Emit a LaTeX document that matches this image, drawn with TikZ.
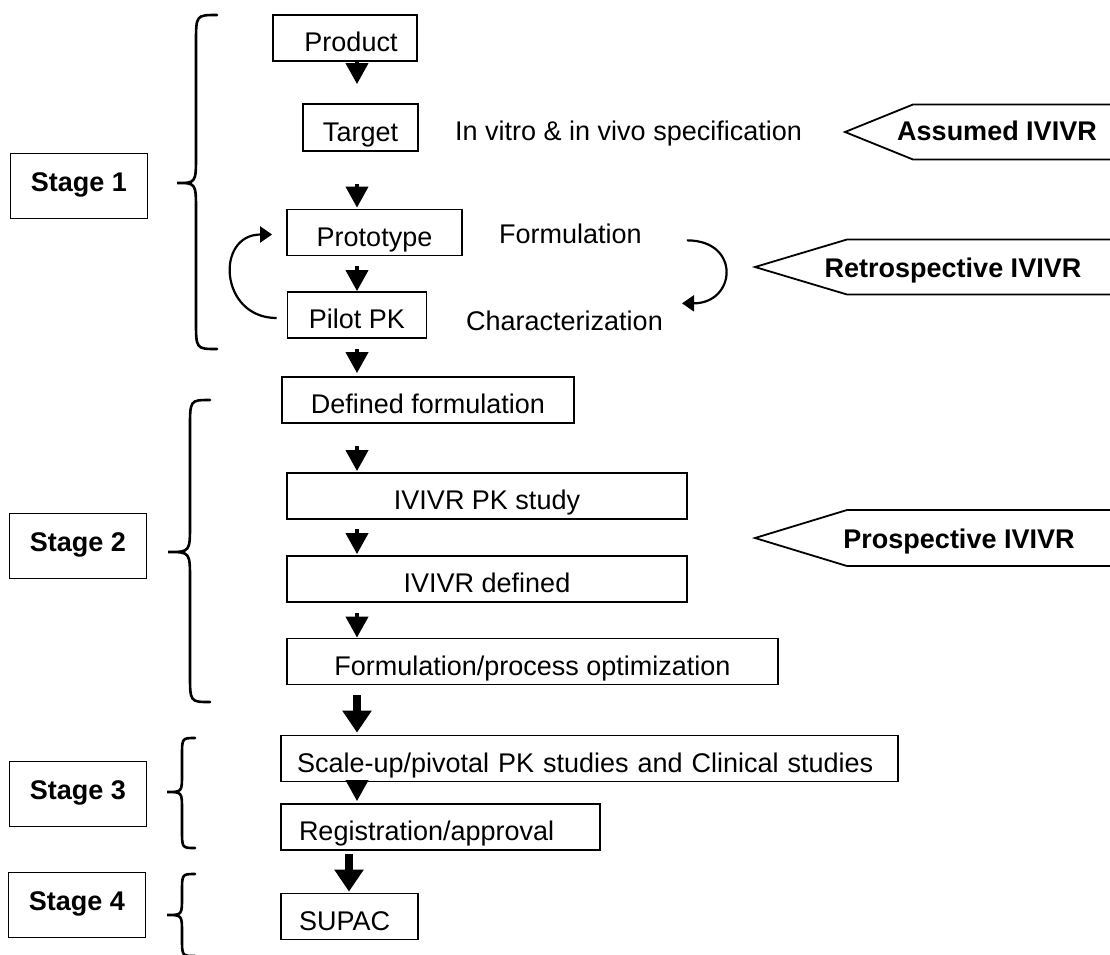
\documentclass[tikz,border=0pt]{standalone}
\usepackage{fontspec}
\setmainfont{Liberation Sans}
\usepackage{tikz}
\usetikzlibrary{arrows.meta,scopes}

\begin{document}
\begin{tikzpicture}[
    x=1pt, y=-1pt,
    txt/.style={font=\fontsize{27pt}{32pt}\selectfont, inner sep=0pt},
    stepbox/.style={rectangle, draw, line width=1.8pt, minimum height=46pt, inner xsep=3pt, inner ysep=2pt, text height=27pt, text depth=0pt, font=\fontsize{27pt}{32pt}\selectfont},
    leftbox/.style={stepbox, align=left},
    stage/.style={stepbox, minimum width=137pt, minimum height=65pt, text height=20pt, text depth=10pt, font=\fontsize{27pt}{32pt}\selectfont\bfseries},
    tag/.style={draw=black, line width=1.8pt, line join=miter},
    flow/.style={line width=4pt, -{Triangle[width=22pt,length=21pt]}},
    bigflow/.style={line width=8pt, -{Triangle[width=28pt,length=22pt]}},
    turn/.style={line width=2.2pt, -{Triangle[width=16pt,length=12pt]}},
    curly/.style={line width=2.6pt, line cap=round},
]
    \useasboundingbox (0,0) rectangle (1110,954);

    %%%
    % Stage labels and their braces
    \node[stage] (s1) at (79,186) {Stage 1};
    \node[stage] (s2) at (78,546) {Stage 2};
    \node[stage] (s3) at (78,794) {Stage 3};
    \node[stage] (s4) at (77,905) {Stage 4};

    \foreach \xe/\xv/\xt/\yt/\ym/\yb/\r in {217/196/177/15/183/349/28, 210/190/168/400/552/702/28, 195/182/167/738/792/848/18, 195/182/167/874/915/956/18}
    \draw[curly] (\xe,\yt) .. controls (\xv,\yt) .. (\xv,{\yt+\r}) -- (\xv,{\ym-\r})
        .. controls (\xv,\ym) .. (\xt,\ym) .. controls (\xv,\ym) .. (\xv,{\ym+\r})
        -- (\xv,{\yb-\r}) .. controls (\xv,\yb) .. (\xe,\yb);

    %%%
    % Flow of boxes
    \node[stepbox, minimum width=144pt] (product) at (345,38) {\hspace*{12pt}Product};
    \node[stepbox, minimum width=115pt, minimum height=47pt] (target) at (360.5,127.5) {Target};
    \node[stepbox, minimum width=175pt] (proto) at (374.5,232.5) {Prototype};
    \node[stepbox, minimum width=139pt] (pilot) at (357,315) {Pilot PK};
    \node[stepbox, minimum width=292pt] (defined) at (428,400) {Defined formulation};
    \node[stepbox, minimum width=400pt] (pkstudy) at (487,496) {IVIVR PK study};
    \node[stepbox, minimum width=400pt] (ivdef) at (487,579) {IVIVR defined};
    \node[stepbox, minimum width=491pt] (optim) at (532.5,661.5) {Formulation/process optimization};
    \node[leftbox, text width=611pt] (scaleup) at (589.5,758.5) {\hspace*{13pt}Scale-up/pivotal PK studies and Clinical studies};
    \node[leftbox, text width=313pt] (regist) at (440.5,827) {\hspace*{15pt}Registration/approval};
    \node[leftbox, text width=131pt] (supac) at (349.5,916.5) {\hspace*{15pt}SUPAC};

    % side texts
    \node[txt, anchor=base west] (spec) at (455,140) {In vitro \& in vivo specification};
    \node[txt, anchor=base west] (form) at (499,243) {Formulation};
    \node[txt, anchor=base west] (char) at (466,330) {Characterization};

    %%%
    % Arrows
    \coordinate (spine) at (357,0);
    \coordinate (spine2) at (349,0);
    {[flow]
        \draw[shorten >=19pt] (product.south -| spine) -- (target.north -| spine);
        \draw[shorten <=32pt, shorten >=1pt] (target.south -| spine) -- (proto.north -| spine);
        \draw[shorten <=10pt] (proto.south -| spine) -- (pilot.north -| spine);
        \draw[shorten <=10pt, shorten >=3pt] (pilot.south -| spine) -- (defined.north -| spine);
        \draw[shorten <=22pt, shorten >=1pt] (defined.south -| spine) -- (pkstudy.north -| spine);
        \draw[shorten <=9pt, shorten >=1pt] (pkstudy.south -| spine) -- (ivdef.north -| spine);
        \draw[shorten <=10pt] (ivdef.south -| spine) -- (optim.north -| spine);
        \draw[shorten <=-11pt, shorten >=2pt] (scaleup.south -| spine) -- (regist.north -| spine);
    }
    {[bigflow]
        \draw[shorten <=10pt, shorten >=2pt] (optim.south -| spine) -- (scaleup.north -| spine);
        \draw[shorten <=3pt, shorten >=1pt] (regist.south -| spine2) -- (supac.north -| spine2);
    }
    {[turn]
        \draw ([xshift=-10pt,yshift=-3pt]pilot.west) to[out=180,in=180,looseness=1.75] ([xshift=-14pt,yshift=-2pt]proto.west);
        \draw ([xshift=45pt,yshift=-7pt]form.east) to[out=0,in=0,looseness=2.2] ([xshift=19pt,yshift=17pt]char.east);
    }

    %%%
    % IVIVR tags
    \node[txt, font=\fontsize{27pt}{32pt}\selectfont\bfseries, anchor=base] (assumed) at (997,140) {Assumed IVIVR};
    \node[txt, font=\fontsize{27pt}{32pt}\selectfont\bfseries, anchor=base] (retro) at (953,277) {Retrospective IVIVR};
    \node[txt, font=\fontsize{27pt}{32pt}\selectfont\bfseries, anchor=base] (prosp) at (959,548) {Prospective IVIVR};
    \foreach \tx/\ty/\cx/\h in {845/132/913/27.5, 755/267/847/27.5, 755/538/847/28}
    \draw[tag] (1116,{\ty-\h}) -- (\cx,{\ty-\h}) -- (\tx,\ty) -- (\cx,{\ty+\h}) -- (1116,{\ty+\h});

\end{tikzpicture}
\end{document}
